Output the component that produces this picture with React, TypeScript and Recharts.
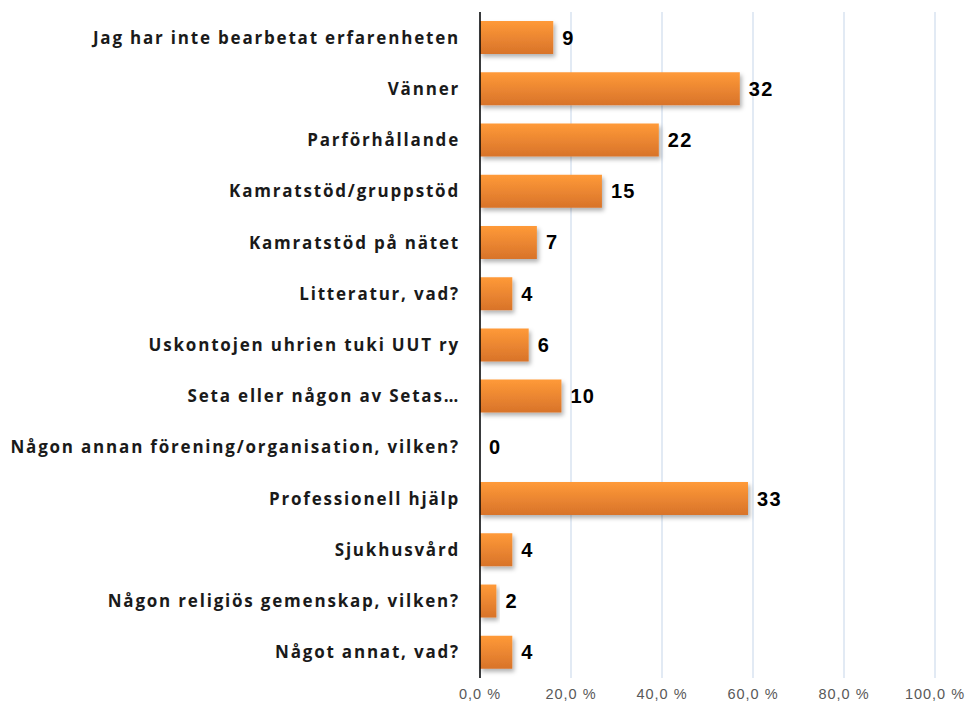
import React from 'react';
import { BarChart, Bar, XAxis, YAxis, CartesianGrid, LabelList } from 'recharts';

// svarsalternativ
const categories = [
  'Jag har inte bearbetat erfarenheten',
  'Vänner',
  'Parförhållande',
  'Kamratstöd/gruppstöd',
  'Kamratstöd på nätet',
  'Litteratur, vad?',
  'Uskontojen uhrien tuki UUT ry',
  'Seta eller någon av Setas…',
  'Någon annan förening/organisation, vilken?',
  'Professionell hjälp',
  'Sjukhusvård',
  'Någon religiös gemenskap, vilken?',
  'Något annat, vad?',
];

// antal svar
const counts = [9, 32, 22, 15, 7, 4, 6, 10, 0, 33, 4, 2, 4];

// andel i procent
const percents = [16.1, 57.1, 39.3, 26.8, 12.5, 7.1, 10.7, 17.9, 0, 58.9, 7.1, 3.6, 7.1];

const xTicks = [0, 20, 40, 60, 80, 100];

const data = categories.map((name, i) => ({ name, count: counts[i], pct: percents[i] }));

const fmtPct = (v: number) => `${v.toFixed(1).replace('.', ',')} %`;

// egen etikett så att även 0 ritas ut
const CountLabel = (props: any) => {
  const { x, y, width, height, value } = props;
  if (x == null || y == null) return null;
  return (
    <text
      x={Number(x) + Number(width || 0) + 9}
      y={Number(y) + Number(height || 0) / 2}
      dominantBaseline="central"
      fontSize={20}
      fontWeight="bold"
      fill="#000"
      fontFamily="Liberation Sans, Arial, sans-serif"
      letterSpacing={1.3}
    >
      {value}
    </text>
  );
};

export default function App() {
  return (
    <div style={{ position: 'absolute', left: 0, top: 0 }}>
      <BarChart
        width={966}
        height={705}
        data={data}
        layout="vertical"
        margin={{ top: 12, right: 31, bottom: 0, left: 0 }}
        barSize={33}
      >
        <defs>
          <linearGradient id="barFill" x1="0" y1="0" x2="0" y2="1">
            <stop offset="0%" stopColor="#FF9A38" />
            <stop offset="100%" stopColor="#D8732A" />
          </linearGradient>
          <filter id="barShadow" x="-10%" y="-20%" width="130%" height="160%">
            <feDropShadow dx="2" dy="3" stdDeviation="2" floodColor="#000" floodOpacity="0.3" />
          </filter>
        </defs>
        <CartesianGrid horizontal={false} stroke="#D9E3F0" strokeWidth={1.5} />
        <XAxis
          type="number"
          domain={[0, 100]}
          ticks={xTicks}
          tickFormatter={fmtPct}
          axisLine={false}
          tickLine={false}
          height={27}
          tick={{ fontSize: 14.5, fill: '#595959', fontFamily: 'Liberation Sans, Arial, sans-serif', letterSpacing: 1 }}
          tickMargin={5}
        />
        <YAxis
          type="category"
          dataKey="name"
          width={480}
          axisLine={{ stroke: '#000', strokeWidth: 1.5 }}
          tickLine={false}
          tickMargin={14}
          interval={0}
          tick={{ fontSize: 17, fill: '#1a1a1a', fontWeight: 'bold', fontFamily: 'Open Sans, sans-serif', letterSpacing: 1.8 }}
        />
        <Bar
          dataKey="pct"
          fill="url(#barFill)"
          filter="url(#barShadow)"
          minPointSize={(value: number) => (value === 0 ? 0.01 : 0)}
          isAnimationActive={false}
        >
          <LabelList dataKey="count" content={CountLabel} />
        </Bar>
      </BarChart>
    </div>
  );
}
